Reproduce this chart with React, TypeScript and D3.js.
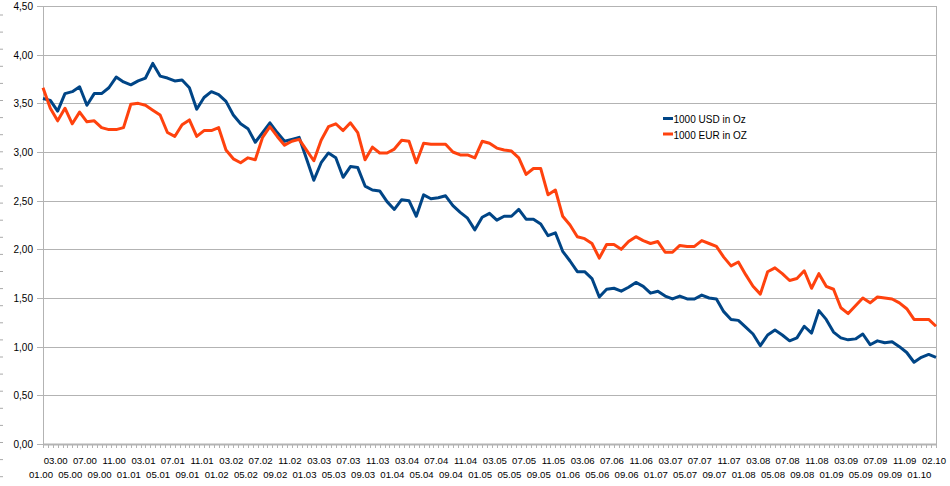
import React from "react";
import * as d3 from "d3";

const usdValues = [
  3.55, 3.53, 3.42, 3.60, 3.62, 3.67, 3.48, 3.60, 3.60, 3.66,
  3.77, 3.72, 3.69, 3.73, 3.76, 3.91, 3.78, 3.76, 3.73, 3.74,
  3.66, 3.44, 3.56, 3.62, 3.59, 3.52, 3.38, 3.29, 3.24, 3.10,
  3.20, 3.30, 3.20, 3.11, 3.13, 3.15, 2.93, 2.71, 2.89, 2.99,
  2.94, 2.74, 2.85, 2.84, 2.65, 2.61, 2.60, 2.49, 2.41, 2.51,
  2.50, 2.34, 2.56, 2.52, 2.53, 2.55, 2.45, 2.38, 2.32, 2.20,
  2.33, 2.37, 2.30, 2.34, 2.34, 2.41, 2.31, 2.31, 2.26, 2.14,
  2.17, 1.98, 1.88, 1.77, 1.77, 1.70, 1.51, 1.59, 1.60, 1.57,
  1.61, 1.66, 1.62, 1.55, 1.57, 1.52, 1.49, 1.52, 1.49, 1.49,
  1.53, 1.50, 1.49, 1.36, 1.28, 1.27, 1.20, 1.13, 1.01, 1.12,
  1.17, 1.12, 1.06, 1.09, 1.21, 1.14, 1.37, 1.28, 1.15, 1.09,
  1.07, 1.08, 1.13, 1.02, 1.06, 1.04, 1.05, 1.00, 0.94, 0.84,
  0.89, 0.92, 0.89,
];

const eurValues = [
  3.66, 3.45, 3.32, 3.45, 3.29, 3.41, 3.31, 3.32, 3.25, 3.23,
  3.23, 3.25, 3.49, 3.50, 3.48, 3.43, 3.38, 3.20, 3.16, 3.28,
  3.33, 3.16, 3.22, 3.22, 3.25, 3.02, 2.93, 2.89, 2.94, 2.92,
  3.15, 3.26, 3.16, 3.07, 3.11, 3.13, 3.02, 2.91, 3.12, 3.26,
  3.29, 3.22, 3.30, 3.20, 2.92, 3.05, 2.99, 2.99, 3.03, 3.12,
  3.11, 2.89, 3.09, 3.08, 3.08, 3.08, 3.00, 2.97, 2.97, 2.94,
  3.11, 3.09, 3.04, 3.02, 3.01, 2.94, 2.77, 2.83, 2.83, 2.56,
  2.61, 2.34, 2.25, 2.13, 2.11, 2.06, 1.91, 2.05, 2.05, 2.00,
  2.08, 2.13, 2.09, 2.06, 2.08, 1.97, 1.97, 2.04, 2.03, 2.03,
  2.09, 2.06, 2.03, 1.92, 1.83, 1.87, 1.74, 1.62, 1.54, 1.77,
  1.81, 1.75, 1.68, 1.70, 1.78, 1.60, 1.75, 1.62, 1.59, 1.40,
  1.34, 1.42, 1.50, 1.45, 1.51, 1.50, 1.49, 1.45, 1.39, 1.28,
  1.28, 1.28, 1.21,
];

const bottomLabels = [
  "01.00", "05.00", "09.00", "01.01", "05.01", "09.01", "01.02", "05.02",
  "09.02", "01.03", "05.03", "09.03", "01.04", "05.04", "09.04", "01.05",
  "05.05", "09.05", "01.06", "05.06", "09.06", "01.07", "05.07", "09.07",
  "01.08", "05.08", "09.08", "01.09", "05.09", "09.09", "01.10",
];

const topLabels = [
  "03.00", "07.00", "11.00", "03.01", "07.01", "11.01", "03.02", "07.02",
  "11.02", "03.03", "07.03", "11.03", "03.04", "07.04", "11.04", "03.05",
  "07.05", "11.05", "03.06", "07.06", "11.06", "03.07", "07.07", "11.07",
  "03.08", "07.08", "11.08", "03.09", "07.09", "11.09", "02.10",
];

const yTickValues = [0, 0.5, 1, 1.5, 2, 2.5, 3, 3.5, 4, 4.5];
const seriesNames = ["1000 USD in Oz", "1000 EUR in OZ"];
const seriesColors = ["#004586", "#ff420e"];

export default function App() {
  const W = 950;
  const H = 486;
  const left = 43;
  const right = 936;
  const top = 6;
  const bottom = 444;
  const n = usdValues.length;

  const x = d3.scaleLinear().domain([0, n - 1]).range([left, right]);
  const y = d3.scaleLinear().domain([0, 4.5]).range([bottom, top]);
  const line = d3
    .line<number>()
    .x((_, i) => x(i))
    .y((d) => y(d));

  const fmt = (v: number) => v.toFixed(2).replace(".", ",");
  const minorTicks = d3.range(0, n - 1 + 1e-6, 2 / 3);
  const edgeDashes = d3.range(0, 28).map((k) => 15 + k * 17.1);
  const font = "'Liberation Sans', Arial, sans-serif";
  const gridColor = "#b3b3b3";

  const series = [usdValues, eurValues];

  return (
    <svg
      width={W}
      height={H}
      style={{ position: "absolute", left: 0, top: 0, background: "#fff" }}
      fontFamily={font}
    >
      <rect x={0} y={0} width={W} height={H} fill="#fff" />
      {edgeDashes.map((d, i) => (
        <line key={"ed" + i} x1={0} x2={3} y1={d} y2={d} stroke="#aaa" strokeWidth={1} />
      ))}
      {yTickValues.map((v) => (
        <g key={"g" + v}>
          {v > 0 && (
            <line
              x1={left}
              x2={right}
              y1={Math.round(y(v)) + 0.5}
              y2={Math.round(y(v)) + 0.5}
              stroke={gridColor}
              strokeWidth={1}
            />
          )}
          <line
            x1={left - 6}
            x2={left}
            y1={Math.round(y(v)) + 0.5}
            y2={Math.round(y(v)) + 0.5}
            stroke={gridColor}
            strokeWidth={1}
          />
          <text x={33} y={y(v) + 4} textAnchor="end" fontSize={10} fill="#000">
            {fmt(v)}
          </text>
        </g>
      ))}
      <line x1={left + 0.5} x2={left + 0.5} y1={top} y2={bottom} stroke={gridColor} strokeWidth={1} />
      <line x1={right + 0.5} x2={right + 0.5} y1={top} y2={bottom} stroke={gridColor} strokeWidth={1} />
      {minorTicks.map((t, i) => (
        <line
          key={"mt" + i}
          x1={Math.round(x(t)) + 0.5}
          x2={Math.round(x(t)) + 0.5}
          y1={bottom}
          y2={bottom + 4}
          stroke={gridColor}
          strokeWidth={1}
        />
      ))}
      <line x1={left} x2={right + 1} y1={bottom + 0.5} y2={bottom + 0.5} stroke={gridColor} strokeWidth={2} />
      {bottomLabels.map((lab, k) => (
        <text key={"bl" + k} x={x(4 * k) - 2} y={477.5} textAnchor="middle" fontSize={9.6} fill="#000">
          {lab}
        </text>
      ))}
      {topLabels.map((lab, k) => (
        <text key={"tl" + k} x={x(4 * k + 2) - 2} y={464} textAnchor="middle" fontSize={9.6} fill="#000">
          {lab}
        </text>
      ))}
      {series.map((s, si) => (
        <path
          key={"s" + si}
          d={line(s) || ""}
          fill="none"
          stroke={seriesColors[si]}
          strokeWidth={3}
          strokeLinejoin="round"
          strokeLinecap="butt"
        />
      ))}
      {seriesNames.map((name, i) => (
        <g key={"lg" + i}>
          <line
            x1={663}
            x2={673}
            y1={118.5 + i * 15.5}
            y2={118.5 + i * 15.5}
            stroke={seriesColors[i]}
            strokeWidth={3}
          />
          <text x={673.5} y={123 + i * 15.5} fontSize={10} fill="#000">
            {name}
          </text>
        </g>
      ))}
    </svg>
  );
}
